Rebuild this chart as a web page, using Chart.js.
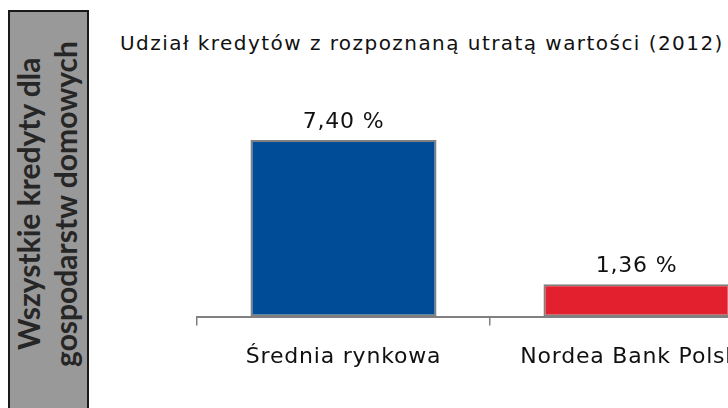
<!DOCTYPE html>
<html>
<head>
<meta charset="utf-8">
<script src="https://cdn.jsdelivr.net/npm/chart.js@4/dist/chart.umd.min.js"></script>
<style>
  html, body { margin: 0; padding: 0; background: #fff; width: 728px; height: 408px; overflow: hidden; }
  body { position: relative; font-family: "DejaVu Sans", sans-serif; }
  #side {
    position: absolute; left: 8px; top: 10px; width: 77px; height: 420px;
    background: #999999; border: 2px solid #1a1a1a;
    display: flex; align-items: center; justify-content: center;
  }
  #side div {
    writing-mode: vertical-rl; transform: rotate(180deg);
    font-family: Lato, sans-serif; font-weight: bold; font-size: 30px; line-height: 37px;
    color: #262626; text-align: center; white-space: nowrap; margin-top: -36px; margin-left: -3px;
  }
  #title {
    position: absolute; left: 120px; top: 31px; font-size: 20px; letter-spacing: 1.45px;
    color: #111; white-space: nowrap;
  }
  #wrap { position: absolute; left: 187px; top: 0; width: 606px; height: 408px; }
</style>
</head>
<body>
<div id="side"><div>Wszystkie kredyty dla<br>gospodarstw domowych</div></div>
<div id="title">Udział kredytów z rozpoznaną utratą wartości (2012)</div>
<div id="wrap"><canvas id="chart"></canvas></div>
<script>
// Categories and values.
const categories = ['Średnia rynkowa', 'Nordea Bank Polska'];
const shares = [7.40, 1.36];
const barColors = ['#004c97', '#e3202e'];

/**
 * Widens the canvas text a little, like the original font.
 */
const spacing = {
    id: 'spacing',
    beforeDraw( chart ) {
        chart.ctx.letterSpacing = '0.8px';
    }
};

/**
 * Draws the value label above each bar, e.g. "7,40 %".
 */
const valueLabels = {
    id: 'valueLabels',
    afterDatasetsDraw( chart ) {
        const ctx = chart.ctx;
        const meta = chart.getDatasetMeta( 0 );
        ctx.save();
        ctx.font = '22px "DejaVu Sans", sans-serif';
        ctx.fillStyle = '#111';
        ctx.textAlign = 'center';
        ctx.textBaseline = 'alphabetic';
        meta.data.forEach( ( bar, i ) => {
            const text = shares[i].toFixed( 2 ).replace( '.', ',' ) + ' %';
            ctx.fillText( text, bar.x, bar.y - 12.5 );
        });
        ctx.restore();
    }
};

new Chart( document.getElementById( 'chart' ), {
    type: 'bar',
    data: {
        labels: categories,
        datasets: [{
            data: shares,
            backgroundColor: barColors,
            borderColor: '#808080',
            borderWidth: 2,
            borderSkipped: false,
            barPercentage: 0.635,
            categoryPercentage: 1
        }]
    },
    options: {
        responsive: true,
        maintainAspectRatio: false,
        animation: false,
        layout: { padding: { left: 10, right: 10, top: 78, bottom: 20 } },
        plugins: {
            legend: { display: false },
            tooltip: { enabled: false }
        },
        scales: {
            x: {
                grid: { drawOnChartArea: false, drawTicks: true, tickLength: 9, color: '#808080', lineWidth: 1.5 },
                border: { display: true, color: '#808080', width: 2 },
                ticks: { color: '#111', padding: 18, font: { family: '"DejaVu Sans", sans-serif', size: 22 }, maxRotation: 0 }
            },
            y: {
                display: false,
                min: 0,
                max: 10
            }
        }
    },
    plugins: [spacing, valueLabels]
});
</script>
</body>
</html>
